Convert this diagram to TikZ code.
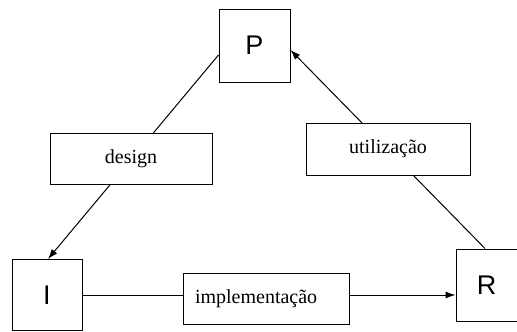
\documentclass[tikz,border=0pt]{standalone}
\usepackage{fontspec}
\setmainfont{Liberation Serif}
\newfontfamily\letterfont{Liberation Sans}
\usetikzlibrary{arrows.meta}
\begin{document}
\begin{tikzpicture}[x=1pt,y=-1pt,
  stage/.style={draw,line width=1pt,fill=white,inner sep=0pt,
    font=\letterfont\fontsize{27}{30}\selectfont},
  activity/.style={draw,line width=1pt,fill=white,inner sep=0pt,
    font=\fontsize{20}{24}\selectfont},
  flow/.style={line width=1pt,-{Latex[length=10pt,width=7pt]}}]
\useasboundingbox (0,0) rectangle (517,332);
% the three stages
\node[stage,minimum width=71pt,minimum height=73pt] (P) at (254.5,45.5) {P};
\node[stage,minimum width=70pt,minimum height=71pt] (I) at (47,295) {I};
\node[stage,minimum width=61pt,minimum height=72pt] (R) at (486.5,285) {R};
% transitions between the stages
\draw[flow] ([yshift=-9.5pt]P.west) -- ([xshift=1pt]I.north);
\draw[flow] ([xshift=-1.5pt]R.north) -- ([yshift=-4.5pt]P.east);
\draw[flow] (I.east) -- (I.east -| R.west);
% activity labels on the transitions
\node[activity,minimum width=162pt,minimum height=51pt] (design) at (131,158.5) {design};
\node[activity,minimum width=164pt,minimum height=52pt] (util) at (388,149) {utilização};
\node[activity,minimum width=166pt,minimum height=51pt,text width=142pt,align=left] (impl) at (266,298.5) {implementação};
\end{tikzpicture}
\end{document}
